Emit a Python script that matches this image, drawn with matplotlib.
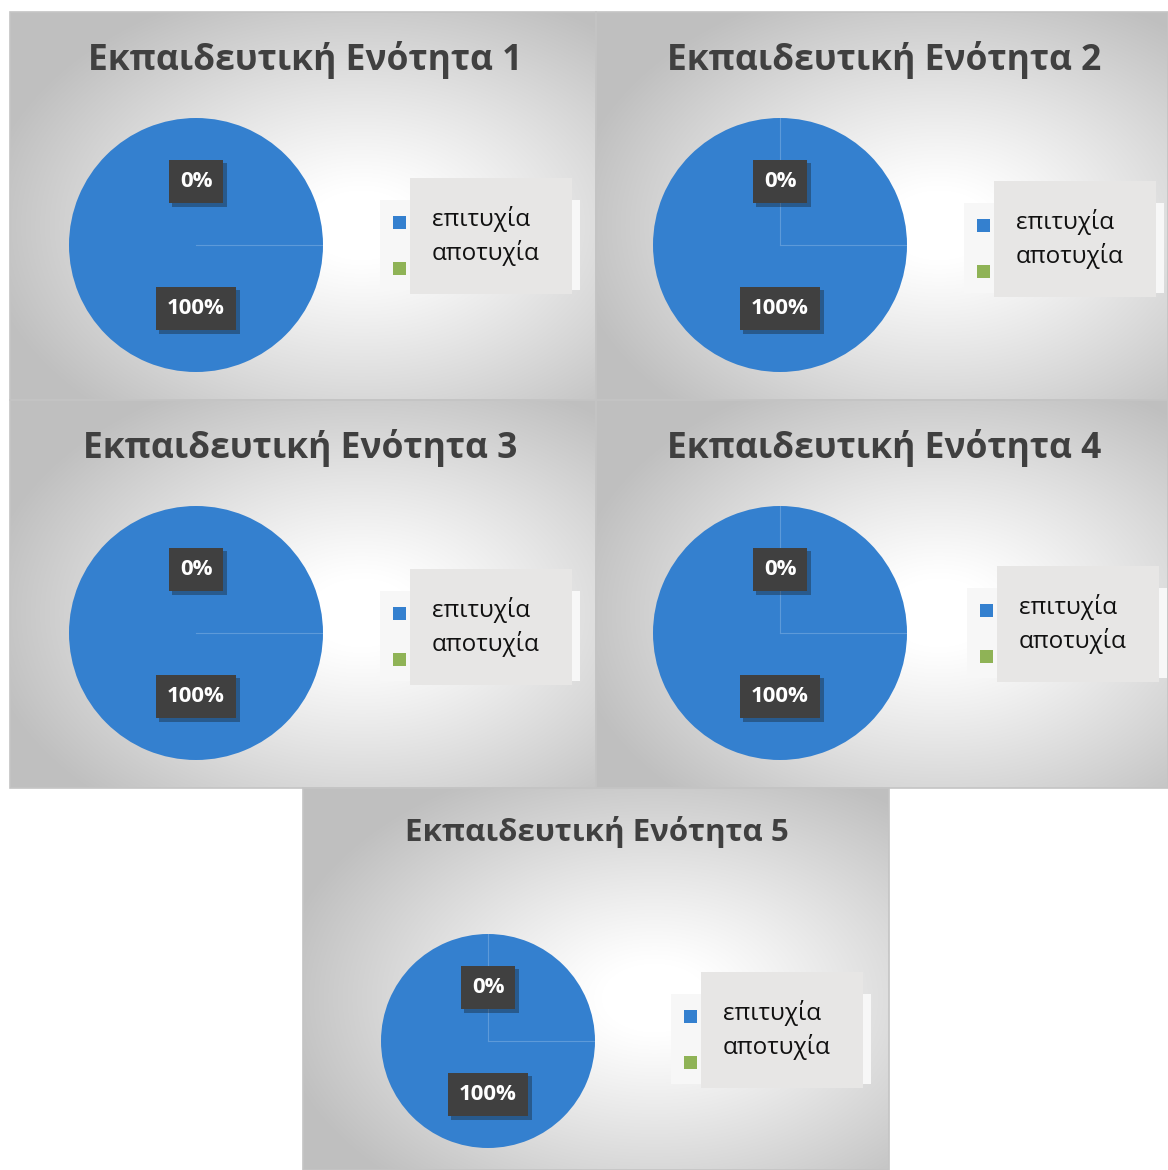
import numpy as np
import matplotlib
matplotlib.use("Agg")
import matplotlib.pyplot as plt
from matplotlib.patches import Rectangle
import matplotlib.patheffects as pe

W, H = 1168, 1170
plt.rcParams['font.family'] = ['Open Sans', 'DejaVu Sans']

MODULES = ["Εκπαιδευτική Ενότητα 1", "Εκπαιδευτική Ενότητα 2", "Εκπαιδευτική Ενότητα 3",
           "Εκπαιδευτική Ενότητα 4", "Εκπαιδευτική Ενότητα 5"]
CATEGORIES = ["επιτυχία", "αποτυχία"]
SUCCESS = [100, 100, 100, 100, 100]
FAILURE = [0, 0, 0, 0, 0]

COLORS = ["#3480cf", "#8fb356"]

# layout in pixels: panel box, title centre, pie centre + radius, legend origin
PANELS = [
    dict(box=(10, 12, 596, 400), title=(305, 60), tsize=25.5, pie=(196, 245, 127), leg=(380, 178), seam=(0, 1)),
    dict(box=(596, 12, 1168, 400), title=(884, 60), tsize=25.5, pie=(780, 245, 127), leg=(964, 181), seam=(1, 1)),
    dict(box=(10, 400, 596, 788), title=(300, 448), tsize=25.5, pie=(196, 633, 127), leg=(380, 569), seam=(0, 1)),
    dict(box=(596, 400, 1168, 788), title=(884, 448), tsize=25.5, pie=(780, 633, 127), leg=(967, 566), seam=(1, 1)),
    dict(box=(303, 788, 889, 1170), title=(597, 832), tsize=22.5, pie=(488, 1041, 107), leg=(671, 972), seam=(1, 1)),
]


def fx(x):
    return x / W


def fy(y):
    return 1 - y / H


def gradient(w, h):
    xx, yy = np.meshgrid(np.linspace(0, 1, w), np.linspace(0, 1, h))
    d = np.sqrt(((xx - 0.6) / 0.75) ** 2 + ((yy - 0.55) / 0.75) ** 2)
    t = np.clip((d - 0.12) / 0.75, 0, 1) ** 1.1
    v = 1.0 - 0.25 * t
    return np.dstack([v, v, v])


fig = plt.figure(figsize=(W / 100, H / 100), dpi=100)
fig.patch.set_facecolor("white")

for i, p in enumerate(PANELS):
    x0, y0, x1, y1 = p["box"]
    bg = fig.add_axes([fx(x0), fy(y1), fx(x1) - fx(x0), fy(y0) - fy(y1)])
    bg.imshow(gradient(x1 - x0, y1 - y0), extent=[0, 1, 0, 1], aspect="auto", zorder=0)
    bg.set_xlim(0, 1)
    bg.set_ylim(0, 1)
    bg.axis("off")
    fig.patches.append(Rectangle((fx(x0), fy(y1)), fx(x1) - fx(x0), fy(y0) - fy(y1),
                                 transform=fig.transFigure, fill=False,
                                 edgecolor="#c4c4c4", lw=1.2, zorder=1))

    # title
    tx, ty = p["title"]
    fig.text(fx(tx), fy(ty), MODULES[i], ha="center", va="center",
             fontsize=p["tsize"], fontweight="bold", color="#404040")

    # pie
    cx, cy, r = p["pie"]
    ax = fig.add_axes([fx(cx - r), fy(cy + r), fx(2 * r), fy(0) - fy(2 * r)])
    wedges, _, autotexts = ax.pie(
        [SUCCESS[i], FAILURE[i]], colors=COLORS, startangle=90, counterclock=False,
        autopct="%1.0f%%", pctdistance=0.5,
        wedgeprops=dict(linewidth=0),
        textprops=dict(color="white", fontsize=16, fontweight="bold"))
    ax.set_xlim(-1, 1)
    ax.set_ylim(-1, 1)
    for at in autotexts:
        at.set_bbox(dict(boxstyle="square,pad=0.5", facecolor="#404040", edgecolor="none"))
        at.get_bbox_patch().set_path_effects(
            [pe.SimplePatchShadow(offset=(2.5, -2.5), alpha=0.35), pe.Normal()])
    sv, sh = p["seam"]
    if sv:
        ax.plot([0, 0], [0, 1], color="#5d9ad9", lw=0.8)
    if sh:
        ax.plot([0, 1], [0, 0], color="#5d9ad9", lw=0.8)

    # legend
    lx, ly = p["leg"]
    fig.patches.append(Rectangle((fx(lx), fy(ly + 112)), fx(200), fy(0) - fy(90),
                                 transform=fig.transFigure, facecolor="#f7f7f7",
                                 edgecolor="none", zorder=2))
    fig.patches.append(Rectangle((fx(lx + 30), fy(ly + 116)), fx(162), fy(0) - fy(116),
                                 transform=fig.transFigure, facecolor="#e7e6e5",
                                 edgecolor="none", zorder=3))
    for k, cat in enumerate(CATEGORIES):
        sq_y = ly + 38 + k * 46
        fig.patches.append(Rectangle((fx(lx + 13), fy(sq_y + 13)), fx(13), fy(0) - fy(13),
                                     transform=fig.transFigure, facecolor=COLORS[k],
                                     edgecolor="none", zorder=4))
        fig.text(fx(lx + 52), fy(ly + 41 + k * 34), cat, ha="left", va="center",
                 fontsize=17.5, color="#111111", zorder=5)

fig.savefig("out.png", dpi=100, facecolor="white")
